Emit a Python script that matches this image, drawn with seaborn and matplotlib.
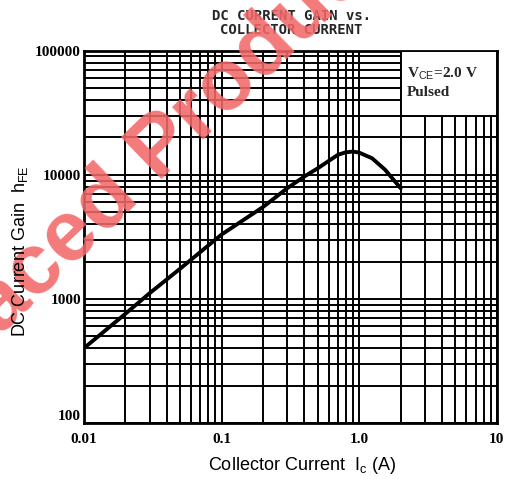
import matplotlib
matplotlib.use('Agg')
import matplotlib.pyplot as plt
from matplotlib.patches import Rectangle
from matplotlib.ticker import LogLocator, FixedLocator, FixedFormatter
import numpy as np
import pandas as pd
import seaborn as sns

# datos
ic = [0.01, 0.02, 0.03, 0.05, 0.1, 0.2, 0.3, 0.4, 0.5, 0.7, 0.8, 0.9, 1.0, 1.24, 1.54, 2.0]
hfe = [400, 757, 1110, 1750, 3300, 5500, 7800, 9700, 11300, 14500, 15200, 15400, 15100, 13600, 11000, 7800]

x_ticks = [0.01, 0.1, 1.0, 10]
x_labels = ["0.01", "0.1", "1.0", "10"]
y_ticks = [100, 1000, 10000, 100000]
y_labels = ["100", "1000", "10000", "100000"]

df = pd.DataFrame({"Ic": ic, "hFE": hfe})

sns.set_theme(style="white")
plt.rcParams['font.family'] = ['Liberation Sans', 'DejaVu Sans']
plt.rcParams['mathtext.fontset'] = 'custom'
plt.rcParams['mathtext.rm'] = 'Liberation Sans'

fig = plt.figure(figsize=(5.05, 4.79), dpi=100)
ax = fig.add_axes([0.166, 0.117, 0.818, 0.777])

sns.lineplot(data=df, x="Ic", y="hFE", ax=ax, color="black", linewidth=2.8, zorder=5)

ax.set_xscale("log")
ax.set_yscale("log")
ax.set_xlim(0.01, 10)
ax.set_ylim(100, 100000)

# rejilla logaritmica negra
ax.xaxis.set_minor_locator(LogLocator(base=10, subs=np.arange(2, 10)))
ax.yaxis.set_minor_locator(LogLocator(base=10, subs=np.arange(2, 10)))
ax.grid(True, which="both", color="black", linewidth=1.4)
ax.set_axisbelow(True)

ax.xaxis.set_major_locator(FixedLocator(x_ticks))
ax.xaxis.set_major_formatter(FixedFormatter(x_labels))
ax.yaxis.set_major_locator(FixedLocator(y_ticks))
ax.yaxis.set_major_formatter(FixedFormatter(y_labels))
ax.xaxis.set_minor_formatter(plt.NullFormatter())
ax.yaxis.set_minor_formatter(plt.NullFormatter())
ax.tick_params(which="both", length=0)
ax.tick_params(axis="x", pad=7)
ax.tick_params(axis="y", pad=2)
for lab in ax.get_xticklabels() + ax.get_yticklabels():
    lab.set_fontfamily("Liberation Serif")
    lab.set_fontweight("bold")
    lab.set_fontsize(11)
    lab.set_color("black")
ax.get_yticklabels()[0].set_verticalalignment("bottom")

for s in ax.spines.values():
    s.set_color("black")
    s.set_linewidth(2)

ax.set_xlabel("Collector Current  I$_\\mathrm{c}$ (A)", fontsize=13, color="black")
ax.xaxis.set_label_coords(0.528, -0.085)
ax.set_ylabel("")
# etiqueta Y encima de la marca de agua
fig.text(0.04, 0.476, "DC Current Gain  h$_\\mathrm{FE}$", rotation=90, ha="center", va="center",
         fontsize=13, color="black", zorder=30)

fig.text(0.577, 0.982, "DC CURRENT GAIN vs.\nCOLLECTOR CURRENT", ha="center", va="top",
         fontfamily="DejaVu Sans Mono", fontweight="bold", fontsize=10, linespacing=1.0)

# cuadro de condiciones
ax.add_patch(Rectangle((2, 30000), 8, 70000, facecolor="white", edgecolor="black",
                       linewidth=1.4, zorder=6))
ax.text(0.782, 0.96, "V$_{\\mathrm{CE}}$=2.0 V\nPulsed", transform=ax.transAxes, ha="left", va="top",
        fontfamily="Liberation Serif", fontweight="bold", fontsize=11, linespacing=1.4, zorder=7)

# marca de agua
fig.text(0.226, 0.592, "Replaced Product", rotation=44, ha="center", va="center",
         fontsize=62, fontweight="bold", color="#f26868", alpha=0.88, zorder=20)

fig.savefig("out.png", dpi=100)
plt.close(fig)
